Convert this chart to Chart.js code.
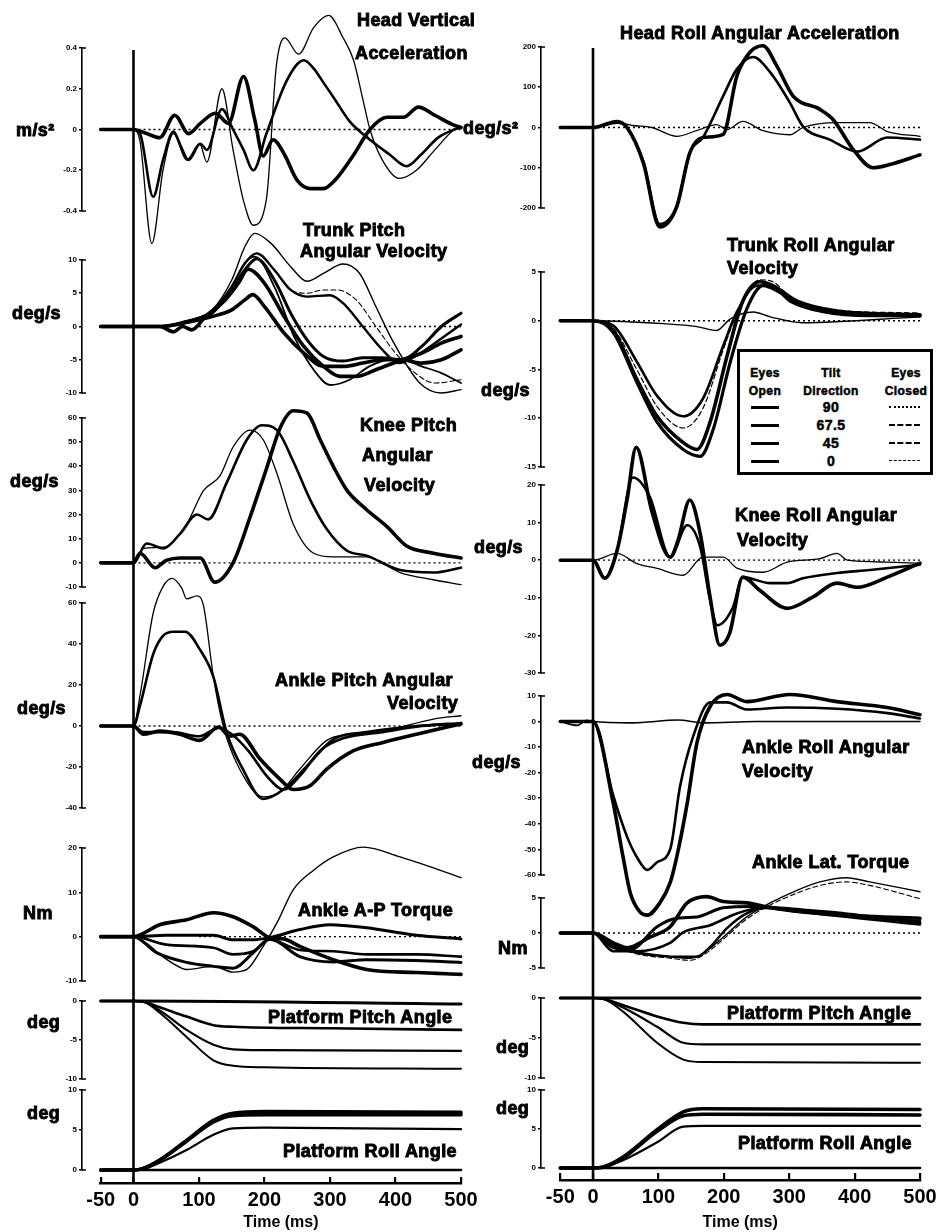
<!DOCTYPE html>
<html>
<head>
<meta charset="utf-8">
<script src="https://cdn.jsdelivr.net/npm/chart.js@4.4.1/dist/chart.umd.min.js"></script>
<style>
  body { margin: 0; background: #fff; width: 939px; height: 1232px; position: relative; overflow: hidden; }
  canvas { position: absolute; top: 0; }
  .lbl { position: absolute; font-family: "Liberation Sans", Arial, Helvetica, sans-serif; font-weight: bold;
         font-size: 18px; line-height: 20px; letter-spacing: 0.4px; white-space: nowrap; color: #000;
         -webkit-text-stroke: 0.9px #000; }
  #key { position: absolute; left: 737px; top: 349px; width: 190px; height: 120px; border: 3px solid #000;
         font-family: "Liberation Sans", Arial, sans-serif; font-weight: bold; color: #000;
         -webkit-text-stroke: 0.5px #000; }
  #key div { position: absolute; white-space: nowrap; }
</style>
</head>
<body>
<div id="key"></div>
<script>
// ---- time axis ----
const timeTicks = [-50, 0, 100, 200, 300, 400, 500];
const tiltDirections = ['90', '67.5', '45', '0'];

// ---- head vertical acceleration (m/s²) ----
const headVertTicks = [-0.4, -0.2, 0, 0.2, 0.4];
const headVertA = [[-50,0],[0,0],[20,-0.02],[40,-0.04],[63,0.07],[84,-0.02],[102,0.03],[125,0.08],[145,0.03],[168,0.26],[185,0.05],[198,-0.13],[213,-0.05],[230,-0.12],[250,-0.25],[270,-0.29],[290,-0.29],[310,-0.24],[335,-0.13],[361,0],[387,0.06],[412,0.06],[435,0.11],[460,0.07],[490,0.02],[500,0.01]];
const headVertB = [[-50,0],[0,0],[10,-0.02],[30,-0.33],[45,-0.15],[61,-0.01],[72,-0.08],[84,-0.15],[102,-0.07],[112,-0.1],[135,0.1],[152,0],[168,-0.1],[183,-0.2],[203,-0.02],[234,0.24],[260,0.34],[275,0.3],[290,0.23],[305,0.16],[330,0.04],[361,-0.05],[390,-0.12],[417,-0.18],[440,-0.12],[465,-0.04],[490,0],[500,0.01]];
const headVertC = [[-50,0],[0,0],[10,-0.06],[28,-0.56],[45,-0.2],[61,-0.02],[81,-0.15],[101,-0.07],[112,-0.16],[135,0.2],[152,-0.1],[168,-0.35],[183,-0.47],[203,-0.34],[218,0.31],[231,0.45],[252,0.37],[275,0.5],[298,0.56],[320,0.45],[336,0.34],[350,0.15],[361,0],[380,-0.15],[406,-0.24],[432,-0.2],[460,-0.1],[490,0],[500,0.01]];

// ---- trunk pitch angular velocity (deg/s) ----
const trunkPitchTicks = [-10, -5, 0, 5, 10];
const trunkPitchA = [[-50,0],[40,0],[80,0.8],[120,2.5],[150,7],[170,12],[185,14],[210,12.5],[240,9],[265,6.8],[290,8],[320,9.4],[345,8],[370,3],[397,-2.4],[437,-8.5],[470,-10],[500,-9.5]];
const trunkPitchB = [[-50,0],[40,0],[80,0.8],[120,2.3],[150,6],[170,9.5],[188,11],[215,8.5],[240,5.5],[265,4.5],[300,4.7],[320,3.5],[350,0],[380,-3.5],[405,-5.5],[430,-4.5],[460,-2.5],[500,0.3]];
const trunkPitchC = [[-50,0],[40,0],[80,0.6],[120,2],[150,5.5],[170,8.5],[188,10.2],[215,7],[240,2],[265,-2],[290,-4.5],[320,-5.2],[350,-4.7],[380,-4.7],[410,-5],[440,-3],[470,0],[500,2]];
const trunkPitchD = [[-50,0],[40,0],[61,-0.8],[75,0],[89,-0.5],[110,1.5],[140,4],[160,6.5],[175,8.6],[200,6.5],[230,1.5],[260,-3],[290,-6],[315,-7.5],[340,-7.5],[370,-6.5],[410,-5],[440,-4],[470,-2.5],[500,-1.5]];
const trunkPitchE = [[-50,0],[40,0],[80,0.6],[120,1.5],[150,2.5],[170,4],[182,4.8],[200,3],[230,-1],[260,-4],[290,-6],[320,-6],[350,-5.5],[380,-5],[410,-5],[440,-5.5],[470,-5],[500,-3.5]];
const trunkPitchF = [[-50,0],[40,0],[80,0.8],[120,2.3],[150,6],[170,9.5],[185,10.5],[215,6],[245,-1.5],[275,-6.5],[300,-8.8],[330,-8],[360,-6],[390,-5],[410,-5],[440,-6],[470,-7],[500,-8.5]];
const trunkPitchEC = [[-50,0],[40,0],[80,0.8],[120,2.3],[150,6],[170,9.5],[188,11],[215,8.5],[240,5.5],[265,5],[290,5.5],[310,5.5],[340,4],[370,0],[400,-4],[430,-7],[460,-8.5],[500,-8]];

// ---- knee pitch angular velocity (deg/s) ----
const kneePitchTicks = [-10, 0, 10, 20, 30, 40, 50, 60];
const kneePitchA = [[-50,0],[0,0],[10,4],[33,-2],[50,1],[71,2],[102,2],[124,-8],[152,0],[178,19],[203,39],[224,56],[244,63],[265,62],[285,51],[305,40],[326,30],[356,22],[387,15],[417,7],[458,4],[500,2]];
const kneePitchB = [[-50,0],[0,0],[20,8],[46,6],[71,12],[97,20],[114,18],[142,33],[173,51],[196,57],[219,55],[244,42],[270,26],[295,14],[326,5],[356,3],[407,-3],[458,-4],[500,-2]];
const kneePitchC = [[-50,0],[0,0],[15,6],[46,6.5],[81,16],[107,30],[132,36],[152,48],[178,55],[198,51],[219,37],[244,16],[275,4],[305,2.5],[356,2.5],[407,-4],[458,-7],[500,-9]];

// ---- ankle pitch angular velocity (deg/s) ----
const anklePitchTicks = [-40, -20, 0, 20, 40, 60];
const anklePitchA = [[-50,0],[0,0],[10,15],[30,55],[45,68],[59,72],[74,67],[81,62],[97,63.5],[107,58.5],[122,24],[137,0],[162,-21],[198,-34.6],[224,-32],[254,-21],[295,-7],[330,-4],[381,-2.5],[458,3.4],[500,5]];
const anklePitchB = [[-50,0],[0,0],[10,10],[30,35],[45,44],[61,46],[79,46],[101,37.5],[122,24],[142,-3],[167,-21],[198,-35.6],[229,-31],[265,-19.5],[305,-6.5],[356,-3],[432,0],[500,1]];
const anklePitchC = [[-50,0],[0,0],[15,-4],[40,-2.5],[71,-4],[101,-7],[130,-0.5],[147,-5],[162,-4],[193,-16],[224,-26],[244,-31],[270,-29],[295,-21],[336,-12],[381,-8],[432,-4],[500,1]];
const anklePitchD = [[-50,0],[0,0],[15,-3],[60,-3],[100,-5],[130,-1],[150,-4],[175,-12],[205,-25],[229,-31],[255,-24],[285,-12],[320,-6],[380,-3],[440,0],[500,1.5]];

// ---- ankle A-P torque (Nm) ----
const apTorqueTicks = [-10, 0, 10, 20];
const apTorqueA = [[-50,0],[0,0],[20,-1.5],[40,-4],[60,-6],[81,-7.4],[122,-6.7],[152,-8],[173,-7.4],[198,-2.2],[219,3.1],[244,10.6],[275,15],[305,18],[351,20.2],[407,18],[458,15.5],[500,13.3]];
const apTorqueB = [[-50,0],[0,0],[40,2.7],[81,3.8],[122,5.4],[152,4.5],[183,2.2],[208,-0.2],[229,-0.5],[254,-2.2],[305,-5.2],[356,-7.4],[432,-8.1],[500,-8.5]];
const apTorqueC = [[-50,0],[0,0],[50,0.3],[122,0.3],[152,-0.7],[183,-0.7],[208,-0.2],[254,1.6],[300,2.7],[356,2],[432,0.3],[500,-0.5]];
const apTorqueD = [[-50,0],[0,0],[50,-1.8],[122,-2.5],[152,-4],[183,-3.3],[208,-0.7],[254,-3],[305,-3.3],[356,-4],[432,-4],[500,-4.5]];
const apTorqueE = [[-50,0],[0,0],[35,-3.6],[81,-5.8],[122,-6.7],[152,-7.1],[183,-3.6],[208,-0.5],[254,-4.5],[305,-5.7],[356,-5.2],[432,-5.4],[500,-5.8]];

// ---- platform pitch angle (deg), left ----
const anglePitchTicks = [-10, -5, 0];
const pitchAngleA = [[-50,0],[0,0],[500,-0.4]];
const pitchAngleB = [[-50,0],[0,0],[15,-0.1],[40,-0.8],[81,-2],[122,-3.1],[152,-3.3],[300,-3.5],[500,-3.7]];
const pitchAngleC = [[-50,0],[0,0],[15,-0.1],[40,-1.2],[81,-3.7],[122,-5.6],[152,-6.2],[200,-6.3],[500,-6.4]];
const pitchAngleD = [[-50,0],[0,0],[15,-0.1],[40,-1.5],[81,-4.6],[122,-7.6],[152,-8.3],[200,-8.5],[500,-8.7]];

// ---- platform roll angle (deg), left ----
const angleRollTicks = [0, 5, 10];
const rollAngleA = [[-50,0],[500,0]];
const rollAngleB = [[-50,0],[0,0],[15,0.2],[40,1.25],[81,3.7],[122,6.2],[152,7.1],[200,7.3],[500,7.2]];
const rollAngleC = [[-50,0],[0,0],[15,0.2],[40,1.2],[81,3.6],[122,6],[152,6.8],[200,6.9],[500,6.9]];
const rollAngleD = [[-50,0],[0,0],[15,0.1],[40,0.9],[81,2.5],[122,4.4],[152,5.2],[200,5.3],[500,5.1]];

// ---- head roll angular acceleration (deg/s²) ----
const headRollTicks = [-200, -100, 0, 100, 200];
const headRollA = [[-50,0],[0,0],[37,15],[52,0],[77,-88],[102,-247],[128,-197],[148,-63],[168,-25],[199,-17],[220,128],[240,187],[260,203],[281,153],[306,78],[347,45],[367,20],[398,-55],[428,-100],[454,-92],[500,-68]];
const headRollB = [[-50,0],[0,0],[37,12],[52,0],[77,-85],[102,-240],[128,-195],[148,-63],[168,-25],[199,78],[220,145],[245,175],[271,137],[301,62],[321,3],[362,-30],[404,-60],[450,-25],[500,-30]];
const headRollC = [[-50,0],[0,0],[37,12],[60,5],[90,0],[128,-22],[158,-8],[189,7],[205,-5],[229,15],[260,-8],[301,-18],[321,0],[373,12],[423,12],[450,-10],[500,-22]];

// ---- trunk roll angular velocity (deg/s) ----
const trunkRollTicks = [-15, -10, -5, 0, 5];
const trunkRollA = [[-50,0],[0,0],[31,-0.5],[67,-4.2],[98,-7.7],[138,-9.8],[168,-8],[199,-2.6],[220,0.9],[251,3.6],[271,3.6],[301,2],[352,0.9],[423,0.5],[500,0.5]];
const trunkRollB = [[-50,0],[0,0],[31,-1],[67,-6],[98,-9.8],[138,-12.5],[159,-13.2],[179,-10.4],[205,-3.6],[229,2],[255,4],[275,3.6],[312,2],[373,1],[500,0.6]];
const trunkRollC = [[-50,0],[0,0],[31,-1.2],[67,-6.3],[98,-10.4],[138,-13.2],[164,-13.9],[184,-11.1],[210,-4.2],[235,1.2],[260,3.6],[286,2.9],[321,1.5],[373,0.8],[500,0.5]];
const trunkRollD = [[-50,0],[0,0],[108,-0.3],[159,-0.6],[189,-1],[210,0.2],[245,0.9],[271,0.4],[320,-0.2],[500,0.4]];
const trunkRollEC = [[-50,0],[0,0],[31,-0.8],[67,-5],[98,-8.8],[138,-11],[168,-9],[199,-3],[225,1.5],[255,4.2],[275,4],[301,2.5],[352,1.2],[500,0.8]];

// ---- knee roll angular velocity (deg/s) ----
const kneeRollTicks = [-30, -20, -10, 0, 10, 20];
const kneeRollA = [[-50,0],[0,0],[18,-4.8],[37,2.7],[52,16],[66,30],[90,13],[118,0.8],[130,5.3],[148,16],[164,7],[179,-9.8],[194,-22.6],[209,-19.4],[229,-4.5],[255,-8],[297,-12.8],[336,-9.8],[373,-6.1],[404,-7.2],[450,-4.5],[500,-0.8]];
const kneeRollB = [[-50,0],[0,0],[18,-4.8],[37,2.7],[61,22],[87,16.8],[118,0.8],[144,9.3],[164,3.5],[179,-10.6],[190,-17.3],[214,-12.5],[229,-4.5],[271,-6.1],[297,-6.1],[321,-4.8],[373,-3.4],[423,-2.6],[500,-1.2]];
const kneeRollC = [[-50,0],[0,0],[37,1.8],[67,-0.9],[98,-2.2],[138,-4],[168,0.8],[199,0.8],[220,-2.1],[260,-3.2],[297,-0.5],[347,0.4],[373,1.8],[389,0],[450,-0.5],[500,-0.8]];

// ---- ankle roll angular velocity (deg/s) ----
const ankleRollTicks = [-60, -50, -40, -30, -20, -10, 0, 10];
const ankleRollA = [[-50,0],[0,0],[31,-32],[46,-53],[57,-67],[72,-74.5],[83,-75.7],[102,-71],[118,-63],[128,-53],[144,-32],[159,-8.2],[179,5.9],[205,10.6],[235,7.8],[301,10.6],[373,7.8],[450,5.5],[500,2.7]];
const ankleRollB = [[-50,0],[0,0],[31,-29],[52,-45],[67,-53],[83,-58],[98,-55],[118,-50],[133,-25.5],[153,-5.9],[179,7.5],[205,7.5],[235,4.7],[297,5.5],[373,5],[450,3.3],[500,1.2]];
const ankleRollC = [[-50,0],[-24,-1.5],[-10,0.5],[0,0],[60,-0.5],[130,0.6],[170,-0.5],[250,0],[500,0]];

// ---- ankle lateral torque (Nm) ----
const latTorqueTicks = [-5, 0, 5];
const latTorqueA = [[-50,0],[0,0],[31,-1.7],[67,-2.9],[118,-3.4],[148,-3.6],[168,-2.9],[199,-0.6],[235,2.3],[271,4.3],[312,6.1],[347,7.3],[388,7.9],[423,7.3],[500,5.9]];
const latTorqueB = [[-50,0],[0,0],[31,-1.4],[52,-2.1],[87,-0.6],[118,0.9],[144,4.3],[174,5.2],[199,4.5],[235,4.3],[271,3.6],[321,3],[373,2.6],[500,2.1]];
const latTorqueC = [[-50,0],[0,0],[31,-2.1],[57,-2.4],[98,0.9],[128,2.1],[159,2.3],[199,3.6],[245,3.8],[321,3.3],[373,2.9],[500,1.4]];
const latTorqueD = [[-50,0],[0,0],[31,-2.6],[67,-2.6],[118,-1.4],[138,0.1],[179,1.1],[220,2.8],[260,3.6],[321,3],[500,1.7]];
const latTorqueE = [[-50,0],[0,0],[31,-2],[77,-2.9],[128,-3.4],[159,-3.4],[179,-2],[205,0.7],[235,2.8],[271,3.6],[321,3],[500,1.2]];
const latTorqueEC = [[-50,0],[0,0],[31,-1.8],[67,-3],[118,-3.6],[148,-3.9],[168,-3.2],[199,-0.9],[235,2],[271,4],[312,5.7],[347,6.8],[388,7.3],[423,6.8],[500,4.9]];

// ---- platform pitch / roll angle (deg), right ----
const rPitchAngleA = [[-50,0],[500,0]];
const rPitchAngleB = [[-50,0],[0,0],[15,-0.1],[46,-0.9],[98,-2.3],[138,-3.1],[168,-3.3],[500,-3.3]];
const rPitchAngleC = [[-50,0],[0,0],[15,-0.1],[46,-1.2],[98,-3.6],[138,-5.6],[168,-5.8],[500,-5.8]];
const rPitchAngleD = [[-50,0],[0,0],[15,-0.1],[46,-1.7],[98,-5.6],[138,-7.7],[168,-8],[500,-8.1]];
const rRollAngleA = [[-50,0],[500,0]];
const rRollAngleB = [[-50,0],[0,0],[15,0.1],[46,1.4],[98,4.9],[138,7.2],[168,7.6],[500,7.5]];
const rRollAngleC = [[-50,0],[0,0],[15,0.1],[46,1.3],[98,4.7],[138,6.7],[168,6.9],[500,6.8]];
const rRollAngleD = [[-50,0],[0,0],[15,0.1],[46,1],[98,3.3],[138,5.3],[168,5.4],[500,5.4]];

// ---- page layout ----
const H = 1232;
const FONT = '"Liberation Sans", Arial, Helvetica, sans-serif';
Chart.defaults.font.family = FONT;
Chart.defaults.color = '#000';

const cols = {
  L: { left: 0,   width: 470, axisX: 82, zeroX: 133.5, pxPerMs: 0.655, lineTop: 50, timeY: 1183, tickUp: 6 },
  R: { left: 470, width: 469, axisX: 71, zeroX: 123,   pxPerMs: 0.654, lineTop: 48, timeY: 1180, tickUp: 7 }
};

const s = (data, w, dash) => ({ data, w, dash });
const panels = [
  { col: 'L', top: 48,  bottom: 211,  ticks: headVertTicks,  zero: 0,   series: [s(headVertA, 3.6), s(headVertB, 2.6), s(headVertC, 1.3)] },
  { col: 'L', top: 260, bottom: 393,  ticks: trunkPitchTicks, zero: 100, series: [s(trunkPitchA, 1.4), s(trunkPitchB, 2.4), s(trunkPitchC, 3), s(trunkPitchD, 3.6), s(trunkPitchE, 3.6), s(trunkPitchF, 1.8), s(trunkPitchEC, 1.1, [5, 3])] },
  { col: 'L', top: 418, bottom: 587,  ticks: kneePitchTicks, zero: 0,   series: [s(kneePitchA, 3.6), s(kneePitchB, 2.6), s(kneePitchC, 1.3)] },
  { col: 'L', top: 603, bottom: 808,  ticks: anklePitchTicks, zero: 0,  series: [s(anklePitchA, 1.3), s(anklePitchB, 2.6), s(anklePitchC, 3.6), s(anklePitchD, 2.6)] },
  { col: 'L', top: 848, bottom: 981,  ticks: apTorqueTicks, zero: 100,  series: [s(apTorqueA, 1.4), s(apTorqueB, 3.6), s(apTorqueC, 3), s(apTorqueD, 2.6), s(apTorqueE, 3)] },
  { col: 'L', top: 1001, bottom: 1079, ticks: anglePitchTicks, zero: null, series: [s(pitchAngleA, 3), s(pitchAngleB, 2.6), s(pitchAngleC, 2.2), s(pitchAngleD, 2)] },
  { col: 'L', top: 1090, bottom: 1170, ticks: angleRollTicks, zero: null, series: [s(rollAngleA, 2.6), s(rollAngleB, 3.6), s(rollAngleC, 3.6), s(rollAngleD, 2.2)] },
  { col: 'R', top: 47,  bottom: 208,  ticks: headRollTicks, zero: 0,    series: [s(headRollA, 3.6), s(headRollB, 2.6), s(headRollC, 1.3)] },
  { col: 'R', top: 272, bottom: 467,  ticks: trunkRollTicks, zero: 0,   series: [s(trunkRollA, 2.6), s(trunkRollB, 3.6), s(trunkRollC, 3.2), s(trunkRollD, 1.4), s(trunkRollEC, 1.2, [5, 3])] },
  { col: 'R', top: 485, bottom: 673,  ticks: kneeRollTicks, zero: 0,    series: [s(kneeRollA, 3.6), s(kneeRollB, 2.6), s(kneeRollC, 1.3)] },
  { col: 'R', top: 696, bottom: 875,  ticks: ankleRollTicks, zero: null, series: [s(ankleRollA, 3.6), s(ankleRollB, 2.6), s(ankleRollC, 1.6)] },
  { col: 'R', top: 898, bottom: 968,  ticks: latTorqueTicks, zero: 0,   series: [s(latTorqueA, 1.4), s(latTorqueB, 3.6), s(latTorqueC, 3), s(latTorqueD, 2.6), s(latTorqueE, 2.4), s(latTorqueEC, 1.1, [5, 3])] },
  { col: 'R', top: 998, bottom: 1078, ticks: anglePitchTicks, zero: null, series: [s(rPitchAngleA, 3), s(rPitchAngleB, 2.6), s(rPitchAngleC, 2.2), s(rPitchAngleD, 2)] },
  { col: 'R', top: 1090, bottom: 1168, ticks: angleRollTicks, zero: null, series: [s(rRollAngleA, 2.6), s(rRollAngleB, 3.6), s(rRollAngleC, 3.6), s(rRollAngleD, 2.2)] }
];

// text placed on the page: [text, left, centre y]
const texts = [
  ['Head Vertical', 357, 20], ['Acceleration', 355, 53], ['m/s²', 16, 130],
  ['Trunk Pitch', 303, 230], ['Angular Velocity', 300, 251], ['deg/s', 12, 313],
  ['Knee Pitch', 360, 425], ['Angular', 362, 455], ['Velocity', 364, 485], ['deg/s', 10, 481],
  ['Ankle Pitch Angular', 275, 680], ['Velocity', 387, 703], ['deg/s', 17, 708],
  ['Ankle A-P Torque', 298, 910], ['Nm', 23, 913],
  ['Platform Pitch Angle', 268, 1017], ['deg', 27, 1022],
  ['Platform Roll Angle', 283, 1151], ['deg', 27, 1113],
  ['Head Roll Angular Acceleration', 620, 33], ['deg/s²', 463, 128],
  ['Trunk Roll Angular', 727, 245], ['Velocity', 727, 268], ['deg/s', 481, 390],
  ['Knee Roll Angular', 735, 515], ['Velocity', 737, 540], ['deg/s', 474, 547],
  ['Ankle Roll Angular', 742, 747], ['Velocity', 742, 771], ['deg/s', 472, 762],
  ['Ankle Lat. Torque', 752, 862], ['Nm', 498, 948],
  ['Platform Pitch Angle', 727, 1013], ['deg', 496, 1047],
  ['Platform Roll Angle', 738, 1143], ['deg', 496, 1108]
];

const xy = pts => pts.map(([x, y]) => ({ x, y }));

function addCanvas(col, width) {
  const w = width || col.width;
  const c = document.createElement('canvas');
  c.width = w; c.height = H;
  c.style.left = col.left + 'px';
  c.style.width = w + 'px'; c.style.height = H + 'px';
  document.body.appendChild(c);
  return c;
}

// little bracket feet at both ends of every panel axis
const bracketPlugin = {
  id: 'bracket',
  afterDraw(chart) {
    const y = chart.scales.y, x = chart.chartArea.left, ctx = chart.ctx;
    ctx.save();
    ctx.strokeStyle = '#000'; ctx.lineWidth = 1.6;
    ctx.beginPath();
    ctx.moveTo(x - 0.8, y.top); ctx.lineTo(x + 4, y.top);
    ctx.moveTo(x - 0.8, y.bottom); ctx.lineTo(x + 4, y.bottom);
    ctx.stroke();
    ctx.restore();
  }
};

// stimulus onset marker running down the whole column
const onsetPlugin = {
  id: 'onset',
  afterDraw(chart, args, opts) {
    const x = chart.scales.x.getPixelForValue(0), ctx = chart.ctx;
    ctx.save();
    ctx.strokeStyle = '#000'; ctx.lineWidth = 2.6;
    ctx.beginPath();
    ctx.moveTo(x, opts.top); ctx.lineTo(x, chart.chartArea.bottom);
    ctx.stroke();
    ctx.restore();
  }
};

panels.forEach(p => {
  const col = cols[p.col];
  const right = col.width - 3;
  const datasets = p.series.map(sr => ({
    data: xy(sr.data),
    borderColor: '#000',
    borderWidth: sr.w,
    borderDash: sr.dash || [],
    pointRadius: 0,
    fill: false,
    clip: false,
    cubicInterpolationMode: 'monotone',
    borderJoinStyle: 'round',
    borderCapStyle: 'round'
  }));
  if (p.zero !== null) {
    datasets.push({
      data: xy([[p.zero, 0], [500, 0]]),
      borderColor: '#000', borderWidth: 1.3, borderDash: [2, 3],
      pointRadius: 0, fill: false, clip: false, order: 10
    });
  }
  new Chart(addCanvas(col), {
    type: 'line',
    data: { datasets },
    options: {
      responsive: false, animation: false, devicePixelRatio: 1,
      layout: { padding: { top: p.top, bottom: H - p.bottom, left: 0, right: col.width - right } },
      plugins: { legend: { display: false }, tooltip: { enabled: false } },
      scales: {
        x: {
          type: 'linear', display: false,
          min: (col.axisX - col.zeroX) / col.pxPerMs,
          max: (right - col.zeroX) / col.pxPerMs
        },
        y: {
          type: 'linear',
          min: p.ticks[0], max: p.ticks[p.ticks.length - 1],
          afterBuildTicks: sc => { sc.ticks = p.ticks.map(v => ({ value: v })); },
          afterFit: sc => { sc.width = col.axisX; sc.paddingTop = 0; sc.paddingBottom = 0; },
          border: { display: true, color: '#000', width: 1.6 },
          grid: { drawOnChartArea: false, drawTicks: true, tickLength: 3, color: '#000', lineWidth: 1.6 },
          ticks: { color: '#000', font: { size: 8, weight: 'bold' }, padding: 2 }
        }
      }
    },
    plugins: [bracketPlugin]
  });
});

// time axes, one under each column (canvas a little wider so the last label fits)
Object.values(cols).forEach(col => {
  const w = Math.min(col.width + 25, 939 - col.left);
  const x0 = col.zeroX - 50 * col.pxPerMs;
  const x1 = col.zeroX + 500 * col.pxPerMs;
  new Chart(addCanvas(col, w), {
    type: 'line',
    data: { datasets: [] },
    options: {
      responsive: false, animation: false, devicePixelRatio: 1,
      layout: { padding: { top: col.timeY - col.tickUp, bottom: 0, left: x0, right: w - x1 } },
      plugins: { legend: { display: false }, tooltip: { enabled: false }, onset: { top: col.lineTop } },
      scales: {
        x: {
          type: 'linear', min: -50, max: 500,
          afterBuildTicks: sc => { sc.ticks = timeTicks.map(v => ({ value: v })); },
          afterFit: sc => { sc.height = H - col.timeY; sc.paddingLeft = 0; sc.paddingRight = 0; },
          border: { display: true, color: '#000', width: 2.6 },
          grid: { drawOnChartArea: true, drawTicks: false, color: '#000', lineWidth: 2.2 },
          ticks: { color: '#000', font: { size: 20, weight: 'bold' }, padding: 5, maxRotation: 0, autoSkip: false },
          title: { display: true, text: 'Time (ms)', color: '#000', font: { size: 16, weight: 'bold' }, padding: { top: 0, bottom: 0 } }
        },
        y: { display: false, min: 0, max: 1 }
      }
    },
    plugins: [onsetPlugin]
  });
});

// panel titles and units
texts.forEach(([t, x, cy]) => {
  const d = document.createElement('div');
  d.className = 'lbl';
  d.textContent = t;
  d.style.left = x + 'px';
  d.style.top = (cy - 10) + 'px';
  document.body.appendChild(d);
});

// key box: eyes open (solid) / tilt direction / eyes closed (broken)
const key = document.getElementById('key');
const closedDash = ['2px dotted #000', '2px dashed #000', '2px dashed #000', '1.5px dashed #000'];
function keyText(t, cx, cy, size) {
  const d = document.createElement('div');
  d.textContent = t;
  d.style.fontSize = size + 'px';
  d.style.letterSpacing = '0.4px';
  d.style.lineHeight = '14px';
  d.style.left = (cx - 60) + 'px';
  d.style.width = '120px';
  d.style.textAlign = 'center';
  d.style.top = (cy - 7) + 'px';
  key.appendChild(d);
}
keyText('Eyes', 25, 21, 12); keyText('Tilt', 91, 21, 12); keyText('Eyes', 166, 21, 12);
keyText('Open', 25, 39, 12); keyText('Direction', 91, 39, 12); keyText('Closed', 166, 39, 12);
tiltDirections.forEach((dir, i) => {
  const cy = 55 + i * 18;
  keyText(dir, 91, cy, 14);
  const solid = document.createElement('div');
  solid.style.left = '11px'; solid.style.top = (cy - 1.5) + 'px';
  solid.style.width = '28px'; solid.style.height = '3px'; solid.style.background = '#000';
  key.appendChild(solid);
  const broken = document.createElement('div');
  broken.style.left = '149px'; broken.style.top = (cy - 1) + 'px';
  broken.style.width = '31px'; broken.style.height = '0';
  broken.style.borderTop = closedDash[i];
  key.appendChild(broken);
});
</script>
</body>
</html>
